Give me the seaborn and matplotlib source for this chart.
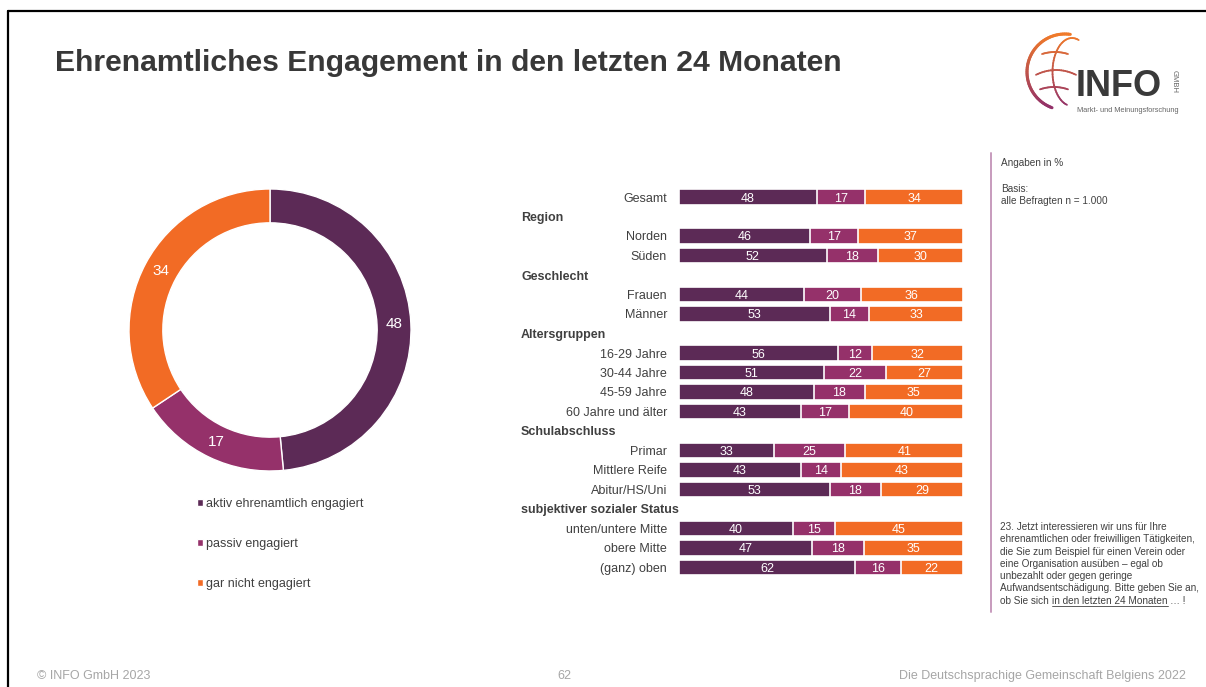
# -*- coding: utf-8 -*-
"""
Ehrenamtliches Engagement in den letzten 24 Monaten
Donut (Gesamt) + gestapelte Balken nach Untergruppen.
"""

import numpy as np
import pandas as pd
import matplotlib
matplotlib.use("Agg")  # pas d'affichage
import matplotlib.pyplot as plt
import seaborn as sns
from matplotlib.lines import Line2D

# Daten
kategorien   = ["aktiv ehrenamtlich engagiert", "passiv engagiert", "gar nicht engagiert"]
donut_werte  = [48, 17, 34]

zeilen  = ["Gesamt", "Norden", "Süden", "Frauen", "Männer",
           "16-29 Jahre", "30-44 Jahre", "45-59 Jahre", "60 Jahre und älter",
           "Primar", "Mittlere Reife", "Abitur/HS/Uni",
           "unten/untere Mitte", "obere Mitte", "(ganz) oben"]
gruppen = [None, "Region", "Region", "Geschlecht", "Geschlecht",
           "Altersgruppen", "Altersgruppen", "Altersgruppen", "Altersgruppen",
           "Schulabschluss", "Schulabschluss", "Schulabschluss",
           "subjektiver sozialer Status", "subjektiver sozialer Status",
           "subjektiver sozialer Status"]
aktiv   = [48, 46, 52, 44, 53, 56, 51, 48, 43, 33, 43, 53, 40, 47, 62]
passiv  = [17, 17, 18, 20, 14, 12, 22, 18, 17, 25, 14, 18, 15, 18, 16]
nicht   = [34, 37, 30, 36, 33, 32, 27, 35, 40, 41, 43, 29, 45, 35, 22]

frage_zeilen = ["23. Jetzt interessieren wir uns für Ihre",
                "ehrenamtlichen oder freiwilligen Tätigkeiten,",
                "die Sie zum Beispiel für einen Verein oder",
                "eine Organisation ausüben – egal ob",
                "unbezahlt oder gegen geringe",
                "Aufwandsentschädigung. Bitte geben Sie an,"]

# Farben
LILA   = "#5C2A56"
MAGENTA = "#95316A"
ORANGE = "#F26B25"
TEXT   = "#404040"
GRAU   = "#A6A6A6"
LINIE  = "#C79BBD"

W, H = 1206, 687


def fx(px):
    return px / W


def fy(py):
    return 1 - py / H


sns.set_theme(style="white")
plt.rcParams["font.family"] = ["Liberation Sans", "DejaVu Sans"]

fig = plt.figure(figsize=(W / 100, H / 100), dpi=100)
fig.patch.set_facecolor("white")

# Rahmen oben / links
fig.add_artist(Line2D([fx(8), fx(W)], [fy(11), fy(11)], color="black", lw=1.6))
fig.add_artist(Line2D([fx(8), fx(8)], [fy(11), fy(H)], color="black", lw=1.6))

# Titel
fig.text(fx(55), fy(63), "Ehrenamtliches Engagement in den letzten 24 Monaten",
         fontsize=21.7, weight="bold", color="#383838", ha="left", va="center")

# ---------------- Donut ----------------
ax_d = fig.add_axes([fx(129), fy(471), fx(411) - fx(129), fy(189) - fy(471)])
summe = sum(donut_werte)
wedges, _, autotexts = ax_d.pie(
    donut_werte,
    colors=[LILA, MAGENTA, ORANGE],
    startangle=90,
    counterclock=False,
    radius=1,
    wedgeprops=dict(width=0.24, edgecolor="white", linewidth=1),
    autopct=lambda p: "{:.0f}".format(p * summe / 100),
    pctdistance=0.88,
    textprops=dict(color="white", fontsize=11),
)
ax_d.set_xlim(-1, 1)
ax_d.set_ylim(-1, 1)
ax_d.set_aspect("equal")

fig.legend(wedges, kategorien, loc="upper left",
           bbox_to_anchor=(fx(197), fy(498)), frameon=False,
           handlelength=0.5, handleheight=0.5, handletextpad=0.25,
           labelspacing=2.25, borderpad=0, borderaxespad=0,
           fontsize=9, labelcolor=TEXT)

# ---------------- Balken ----------------
# Positionen inkl. Zwischenueberschriften
pos, kopf_pos, letzte = [], [], None
y = 0
for g in gruppen:
    if g is not None and g != letzte:
        kopf_pos.append((y, g))
        y += 1
    pos.append(y)
    y += 1
    letzte = g

df = pd.DataFrame({"zeile": zeilen, "pos": pos,
                   "aktiv": aktiv, "passiv": passiv, "nicht": nicht})
total = df["aktiv"] + df["passiv"] + df["nicht"]
df["c1"] = df["aktiv"] / total * 100
df["c2"] = (df["aktiv"] + df["passiv"]) / total * 100
df["c3"] = 100.0

ax = fig.add_axes([fx(679), fy(577.25), fx(963) - fx(679), fy(187.25) - fy(577.25)])
for spalte, farbe in [("c3", ORANGE), ("c2", MAGENTA), ("c1", LILA)]:
    sns.barplot(data=df, x=spalte, y="pos", orient="h", native_scale=True,
                color=farbe, saturation=1, width=0.82, errorbar=None,
                edgecolor="white", linewidth=1.2, ax=ax)

for _, r in df.iterrows():
    mitten = [r["c1"] / 2, (r["c1"] + r["c2"]) / 2, (r["c2"] + r["c3"]) / 2]
    for m, v in zip(mitten, [r["aktiv"], r["passiv"], r["nicht"]]):
        ax.text(m, r["pos"], str(v), ha="center", va="center_baseline",
                color="white", fontsize=9)
    ax.text(-0.042, r["pos"], r["zeile"], transform=ax.get_yaxis_transform(),
            ha="right", va="center_baseline", fontsize=9, color=TEXT)

for p, g in kopf_pos:
    ax.text(-0.556, p, g, transform=ax.get_yaxis_transform(),
            ha="left", va="center_baseline", fontsize=9, weight="bold", color=TEXT)

ax.set_xlim(0, 100)
ax.set_ylim(y - 0.5, -0.5)
ax.set_xticks([])
ax.set_yticks([])
ax.set_xlabel("")
ax.set_ylabel("")
sns.despine(ax=ax, left=True, bottom=True)

# ---------------- Hinweise rechts ----------------
NOTIZ = 7.2
fig.add_artist(Line2D([fx(991), fx(991)], [fy(153), fy(612)], color=LINIE, lw=1.4))
fig.text(fx(1001), fy(163), "Angaben in %", fontsize=NOTIZ, color=TEXT, va="center")
fig.text(fx(1001), fy(189), "Basis:", fontsize=NOTIZ, color=TEXT, va="center")
fig.text(fx(1001), fy(201), "alle Befragten n = 1.000", fontsize=NOTIZ,
         color=TEXT, va="center")

zeile_y = 527
for z in frage_zeilen:
    fig.text(fx(1000), fy(zeile_y), z, fontsize=NOTIZ, color=TEXT, va="center")
    zeile_y += 12.3

renderer = fig.canvas.get_renderer()
x0 = 1000
teile = [("ob Sie sich ", False), ("in den letzten 24 Monaten ", True), ("… !", False)]
for txt, unterstrichen in teile:
    t = fig.text(fx(x0), fy(zeile_y), txt, fontsize=NOTIZ, color=TEXT, va="center")
    bb = t.get_window_extent(renderer)
    if unterstrichen:
        fig.add_artist(Line2D([fx(x0), fx(x0 + bb.width - 2)],
                              [fy(zeile_y + 5.5), fy(zeile_y + 5.5)],
                              color=TEXT, lw=0.6))
    x0 += bb.width

# ---------------- Logo ----------------
ax_l = fig.add_axes([fx(1020), fy(122), fx(1185) - fx(1020), fy(28) - fy(122)])
ax_l.set_xlim(1020, 1185)
ax_l.set_ylim(122, 28)
ax_l.axis("off")

c_or = np.array(matplotlib.colors.to_rgb("#F07A2A"))
c_li = np.array(matplotlib.colors.to_rgb("#8E2E6C"))


def verlauf_linie(xs, ys, lw):
    n = len(xs) - 1
    for i in range(n):
        f = (ys[i] - 35) / 75
        f = min(max(f, 0), 1)
        ax_l.plot(xs[i:i + 2], ys[i:i + 2], color=c_or * (1 - f) + c_li * f,
                  lw=lw, solid_capstyle="round")


t = np.radians(np.linspace(82, 250, 60))
verlauf_linie(1065 + 38 * np.cos(t), 72 - 38 * np.sin(t), 2.2)
t = np.radians(np.linspace(70, 255, 40))
verlauf_linie(1072 + 26 * np.cos(t) * 0.75, 72 - 34 * np.sin(t), 1.3)
for yy, x1, x2 in [(54, 1042, 1068), (72, 1036, 1076), (89, 1040, 1068)]:
    xs = np.linspace(x1, x2, 20)
    verlauf_linie(xs, yy + 0.012 * (xs - (x1 + x2) / 2) ** 2 - 2, 1.3)

ax_l.text(1076, 87, "INFO", fontsize=26, weight="bold", color="#3A3A3A",
          ha="left", va="center")
ax_l.text(1174, 82, "GMBH", fontsize=5.5, color="#666666", rotation=270,
          ha="center", va="center")
ax_l.text(1077, 110, "Markt- und Meinungsforschung", fontsize=5.3, color="#666666",
          ha="left", va="center")

# ---------------- Fusszeile ----------------
fuss = dict(fontsize=9, color=GRAU, va="center")
fig.text(fx(37), fy(676), "© INFO GmbH 2023", ha="left", **fuss)
fig.text(fx(564), fy(676), "62", ha="center", **fuss)
fig.text(fx(1186), fy(676), "Die Deutschsprachige Gemeinschaft Belgiens 2022", ha="right", **fuss)

fig.savefig("out.png", dpi=100, facecolor="white")
plt.close(fig)
